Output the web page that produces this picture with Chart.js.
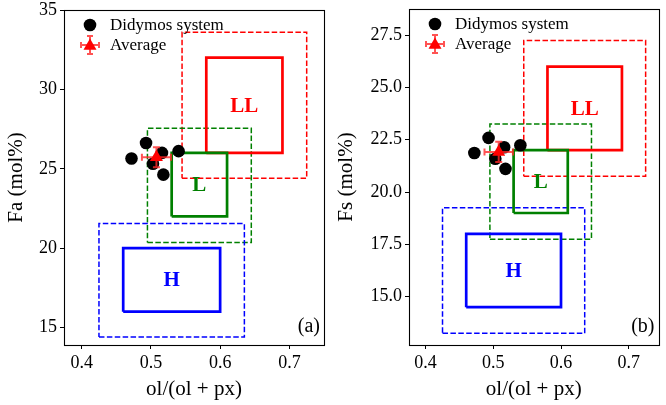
<!DOCTYPE html>
<html><head><meta charset="utf-8">
<script src="https://cdn.jsdelivr.net/npm/chart.js@4/dist/chart.umd.min.js"></script>
<style>
html,body{margin:0;padding:0;background:#fff;}
#wrap{position:relative;width:666px;height:405px;overflow:hidden;}
canvas{position:absolute;top:0;}
</style></head>
<body><div id="wrap"><canvas id="ca" width="333" height="405" style="left:0"></canvas><canvas id="cb" width="333" height="405" style="left:333px"></canvas></div>
<script>
// ---- data ----
const didymosOl = [0.472, 0.493, 0.516, 0.503, 0.518, 0.540];
const didymosFa = [25.65, 26.62, 26.00, 25.32, 24.63, 26.11];
const didymosFs = [21.87, 22.59, 22.14, 21.59, 21.11, 22.24];
const avgOl = 0.508, avgOlErr = 0.021;
const avgFa = 25.72, avgFaErr = 0.63;
const avgFs = 21.92, avgFsErr = 0.48;
// chondrite groups: core range (solid) and wide range (dashed)
const groups = ['H', 'L', 'LL'];
const groupColors = ['#0000ff', '#008000', '#ff0000'];
const olCore = [[0.46, 0.60], [0.53, 0.61], [0.58, 0.69]];
const olWide = [[0.425, 0.635], [0.495, 0.645], [0.545, 0.725]];
const faCore = [[16, 20], [22, 26], [26, 32]];
const faWide = [[14.4, 21.55], [20.35, 27.55], [24.4, 33.6]];
const fsCore = [[14.5, 18], [19, 22], [22, 26]];
const fsWide = [[13.25, 19.25], [17.75, 23.25], [20.75, 27.25]];
const xTicks = [0.4, 0.5, 0.6, 0.7];
const faTicks = [15, 20, 25, 30, 35];
const fsTicks = [15.0, 17.5, 20.0, 22.5, 25.0, 27.5];

const FAM = '"Liberation Serif", "Times New Roman", serif';

function rectPts(xr, yr) {
  return [{x: xr[0], y: yr[0]}, {x: xr[1], y: yr[0]}, {x: xr[1], y: yr[1]}, {x: xr[0], y: yr[1]}, {x: xr[0], y: yr[0]}];
}

function drawTri(ctx, x, y, r) {
  ctx.beginPath();
  ctx.moveTo(x, y - r);
  ctx.lineTo(x + r * 0.866, y + r * 0.5);
  ctx.lineTo(x - r * 0.866, y + r * 0.5);
  ctx.closePath();
  ctx.fill();
}
function errLines(ctx, x0, x1, y, cap, horiz) {
  ctx.beginPath();
  if (horiz) {
    ctx.moveTo(x0, y); ctx.lineTo(x1, y);
    ctx.moveTo(x0, y - cap); ctx.lineTo(x0, y + cap);
    ctx.moveTo(x1, y - cap); ctx.lineTo(x1, y + cap);
  } else {
    ctx.moveTo(y, x0); ctx.lineTo(y, x1);
    ctx.moveTo(y - cap, x0); ctx.lineTo(y + cap, x0);
    ctx.moveTo(y - cap, x1); ctx.lineTo(y + cap, x1);
  }
  ctx.stroke();
}

function makeChart(id, cfg) {
  const datasets = [];
  datasets.push({label: 'Average', data: [{x: avgOl, y: cfg.avgY}], pointStyle: 'triangle', pointRadius: 7.5,
    backgroundColor: '#ff0000', borderColor: '#ff0000', borderWidth: 0, order: 0});
  datasets.push({label: 'Didymos system', data: didymosOl.map((v, i) => ({x: v, y: cfg.dots[i]})), pointRadius: 6.3,
    backgroundColor: '#000', borderColor: '#000', borderWidth: 0, order: 1});
  groups.forEach((g, i) => {
    datasets.push({label: g + ' range', data: rectPts(olWide[i], cfg.wide[i]), showLine: true, pointRadius: 0,
      borderColor: groupColors[i], borderWidth: 1.5, borderDash: [5.5, 2.4], fill: false, tension: 0, order: 3});
    datasets.push({label: g, data: rectPts(olCore[i], cfg.core[i]), showLine: true, pointRadius: 0,
      borderColor: groupColors[i], borderWidth: 2.7, fill: false, tension: 0, order: 2, borderJoinStyle: 'miter'});
  });

  const plug = {
    id: 'extras' + id,
    beforeDatasetDraw(chart, args) {
      if (args.index !== 0) return;
      const ctx = chart.ctx, xs = chart.scales.x, ys = chart.scales.y;
      ctx.save();
      ctx.strokeStyle = 'rgba(255,40,40,0.8)';
      ctx.lineWidth = 2;
      const py = ys.getPixelForValue(cfg.avgY), px = xs.getPixelForValue(avgOl);
      errLines(ctx, xs.getPixelForValue(avgOl - avgOlErr), xs.getPixelForValue(avgOl + avgOlErr), py, 3.5, true);
      errLines(ctx, ys.getPixelForValue(cfg.avgY - cfg.avgYErr), ys.getPixelForValue(cfg.avgY + cfg.avgYErr), px, 3.5, false);
      ctx.restore();
    },
    afterDatasetsDraw(chart) {
      const ctx = chart.ctx, xs = chart.scales.x, ys = chart.scales.y, a = chart.chartArea;
      ctx.save();
      // group labels
      ctx.font = 'bold 21px ' + FAM;
      ctx.textAlign = 'center'; ctx.textBaseline = 'middle';
      groups.forEach((g, i) => {
        ctx.fillStyle = groupColors[i];
        const cx = xs.getPixelForValue((olCore[i][0] + olCore[i][1]) / 2);
        const cy = ys.getPixelForValue((cfg.core[i][0] + cfg.core[i][1]) / 2);
        ctx.fillText(g, cx, cy + 1);
      });
      // frame
      ctx.strokeStyle = '#000'; ctx.lineWidth = 1.1;
      ctx.strokeRect(Math.round(a.left) + 0.5, Math.round(a.top) + 0.5, Math.round(a.right - a.left), Math.round(a.bottom - a.top));
      // legend
      const lx = a.left + 26, ly1 = a.top + 15, ly2 = a.top + 35;
      ctx.fillStyle = '#000';
      ctx.beginPath(); ctx.arc(lx, ly1, 6.3, 0, Math.PI * 2); ctx.fill();
      ctx.strokeStyle = 'rgba(255,40,40,0.8)'; ctx.lineWidth = 2;
      errLines(ctx, lx - 9, lx + 9, ly2, 3, true);
      errLines(ctx, ly2 - 9, ly2 + 9, lx, 3, false);
      ctx.fillStyle = '#ff0000';
      drawTri(ctx, lx, ly2 + 1, 7.5);
      ctx.fillStyle = '#000';
      ctx.font = '17px ' + FAM;
      ctx.textAlign = 'left'; ctx.textBaseline = 'middle';
      ctx.fillText('Didymos system', a.left + 46, ly1 + 1);
      ctx.fillText('Average', a.left + 46, ly2 + 1);
      // panel label
      ctx.font = '20px ' + FAM;
      ctx.textAlign = 'right';
      ctx.fillText(cfg.panel, a.right - 4, a.bottom - 18);
      ctx.restore();
    }
  };

  return new Chart(document.getElementById(id), {
    type: 'scatter',
    data: {datasets},
    plugins: [plug],
    options: {
      responsive: false, animation: false,
      layout: {padding: {left: 0, top: cfg.top, right: cfg.padRight, bottom: 0}},
      plugins: {legend: {display: false}, tooltip: {enabled: false}},
      scales: {
        x: {
          type: 'linear', min: cfg.xMin, max: cfg.xMax,
          afterBuildTicks: s => { s.ticks = xTicks.map(v => ({value: v})); },
          afterFit: s => { s.height = 405 - cfg.bottom; s.paddingLeft = 0; s.paddingRight = 0; },
          grid: {display: true, drawOnChartArea: false, drawTicks: true, tickLength: 4, color: '#000', lineWidth: 1},
          border: {display: false},
          ticks: {color: '#000', font: {family: FAM, size: 18}, padding: 3, maxRotation: 0, autoSkip: false, callback: v => v.toFixed(1)},
          title: {display: true, text: 'ol/(ol + px)', color: '#000', font: {family: FAM, size: 21}, padding: {top: 0, bottom: 3}}
        },
        y: {
          type: 'linear', min: cfg.yMin, max: cfg.yMax,
          afterBuildTicks: s => { s.ticks = cfg.yTicks.map(v => ({value: v})); },
          afterFit: s => { s.width = cfg.left; s.paddingTop = 0; s.paddingBottom = 0; },
          grid: {display: true, drawOnChartArea: false, drawTicks: true, tickLength: 4, color: '#000', lineWidth: 1},
          border: {display: false},
          ticks: {color: '#000', font: {family: FAM, size: 18}, padding: 3, autoSkip: false, callback: v => cfg.fmt(v)},
          title: {display: true, text: cfg.yTitle, color: '#000', font: {family: FAM, size: 21}, padding: {top: cfg.titlePad, bottom: 0}}
        }
      }
    }
  });
}

makeChart('ca', {
  dots: didymosFa, avgY: avgFa, avgYErr: avgFaErr, core: faCore, wide: faWide,
  yTicks: faTicks, fmt: v => String(v), yTitle: 'Fa (mol%)', yMin: 13.9, yMax: 35, xMin: 0.3745, xMax: 0.75,
  left: 64, top: 10, padRight: 9, bottom: 345, titlePad: 4, panel: '(a)'
});
makeChart('cb', {
  dots: didymosFs, avgY: avgFs, avgYErr: avgFsErr, core: fsCore, wide: fsWide,
  yTicks: fsTicks, fmt: v => v.toFixed(1), yTitle: 'Fs (mol%)', yMin: 12.69, yMax: 28.75, xMin: 0.3755, xMax: 0.744,
  left: 76, top: 9, padRight: 1, bottom: 345, titlePad: 1, panel: '(b)'
});
</script>
</body></html>
